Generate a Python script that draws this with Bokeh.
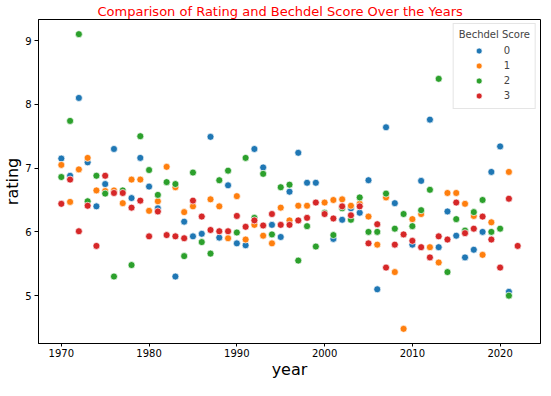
from bokeh.plotting import figure
from bokeh.models import ColumnDataSource, Range1d, FixedTicker
from bokeh.transform import factor_cmap
from bokeh.embed import file_html
from bokeh.resources import INLINE

# Mean rating per year, by Bechdel score
years_0 = [1970, 1971, 1972, 1973, 1974, 1975, 1976, 1978, 1979, 1980, 1981, 1983, 1984, 1985, 1986, 1987, 1988, 1989,
           1990, 1991, 1992, 1993, 1994, 1995, 1996, 1997, 1998, 1999, 2001, 2002, 2003, 2004, 2005, 2006, 2007, 2008,
           2010, 2011, 2012, 2013, 2014, 2015, 2016, 2017, 2018, 2019, 2020, 2021]
rating_0 = [7.15, 6.88, 8.10, 7.09, 6.40, 6.75, 7.30, 6.53, 7.16, 6.71, 6.37, 5.30, 6.16, 5.93, 5.97, 7.49, 5.91, 6.73,
            5.82, 5.79, 7.30, 7.01, 6.11, 5.92, 6.63, 7.24, 6.77, 6.77, 5.89, 6.19, 6.37, 6.30, 6.81, 5.10, 7.64, 6.45,
            5.80, 6.80, 7.76, 5.76, 6.32, 5.94, 5.60, 5.72, 6.00, 6.94, 7.34, 5.06]

years_1 = [1970, 1971, 1972, 1973, 1974, 1975, 1976, 1977, 1978, 1979, 1980, 1981, 1982, 1983, 1984, 1985, 1987, 1988,
           1989, 1990, 1991, 1992, 1993, 1994, 1995, 1996, 1997, 1998, 2000, 2001, 2002, 2003, 2004, 2005, 2006, 2007,
           2008, 2009, 2010, 2011, 2012, 2013, 2014, 2015, 2016, 2017, 2018, 2019, 2021]
rating_1 = [7.05, 6.47, 6.98, 7.16, 6.65, 6.64, 6.65, 6.45, 6.82, 6.82, 6.33, 6.48, 7.02, 6.70, 6.31, 6.40, 6.51, 6.40,
            5.90, 6.56, 5.88, 6.11, 5.94, 5.82, 6.38, 6.18, 6.41, 6.41, 6.46, 6.50, 6.51, 6.41, 6.44, 6.24, 5.80, 6.54,
            5.37, 4.48, 6.20, 6.28, 5.76, 5.52, 6.61, 6.61, 6.44, 6.25, 5.64, 6.15, 6.94]

years_2 = [1970, 1971, 1972, 1973, 1974, 1975, 1976, 1977, 1978, 1979, 1980, 1981, 1982, 1983, 1984, 1985, 1986, 1987,
           1988, 1989, 1990, 1991, 1992, 1993, 1994, 1995, 1996, 1997, 1998, 1999, 2000, 2001, 2002, 2003, 2004, 2005,
           2006, 2007, 2008, 2009, 2010, 2011, 2012, 2013, 2014, 2015, 2016, 2017, 2018, 2019, 2020, 2021]
rating_2 = [6.86, 7.74, 9.10, 6.48, 6.88, 6.60, 5.30, 6.65, 5.48, 7.50, 6.97, 6.58, 6.78, 6.75, 5.62, 6.93, 5.84, 5.66,
            6.81, 6.96, 5.99, 7.16, 6.22, 6.91, 5.96, 6.70, 6.74, 5.55, 6.09, 5.77, 6.30, 5.95, 6.37, 6.19, 6.54, 6.00,
            6.00, 6.60, 6.05, 6.28, 6.09, 6.34, 6.66, 8.40, 5.37, 6.20, 6.02, 6.31, 6.50, 6.00, 6.05, 5.00]

years_3 = [1970, 1971, 1972, 1973, 1974, 1975, 1976, 1977, 1978, 1979, 1980, 1981, 1982, 1983, 1984, 1985, 1986, 1987,
           1988, 1989, 1990, 1991, 1992, 1993, 1994, 1995, 1996, 1997, 1998, 1999, 2000, 2001, 2002, 2003, 2004, 2005,
           2006, 2007, 2008, 2009, 2010, 2011, 2012, 2013, 2014, 2015, 2016, 2017, 2018, 2019, 2020, 2021, 2022]
rating_3 = [6.44, 6.82, 6.01, 6.41, 5.78, 6.88, 6.61, 6.61, 6.38, 6.49, 5.93, 6.32, 5.95, 5.93, 5.90, 6.49, 6.24, 6.03,
            6.01, 6.01, 6.25, 6.08, 6.18, 6.10, 6.28, 6.11, 6.11, 6.18, 6.22, 6.46, 6.28, 6.21, 6.40, 6.26, 6.40, 5.82,
            6.12, 5.44, 5.80, 5.96, 5.86, 5.76, 5.60, 5.93, 5.88, 6.46, 5.98, 6.05, 6.24, 5.88, 5.44, 6.52, 5.78]

scores = ["0", "1", "2", "3"]
palette = ["#1f77b4", "#ff7f0e", "#2ca02c", "#d62728"]
x_ticks = [1970, 1980, 1990, 2000, 2010, 2020]
y_ticks = [5, 6, 7, 8, 9]

# combine, ordered by year then score (draw order)
rows = []
for s, ys, rs in zip(scores, [years_0, years_1, years_2, years_3], [rating_0, rating_1, rating_2, rating_3]):
    for y, r in zip(ys, rs):
        rows.append((y, int(s), r, s))
rows.sort(key=lambda t: (t[0], t[1]))
src = ColumnDataSource(dict(year=[t[0] for t in rows], rating=[t[2] for t in rows], score=[t[3] for t in rows]))

p = figure(frame_width=502, frame_height=324, output_backend="svg", toolbar_location=None,
           x_range=Range1d(1967.4, 2024.6), y_range=Range1d(4.25, 9.33),
           min_border_left=37, min_border_right=2, min_border_top=18, min_border_bottom=0)
p.title.text = "Comparison of Rating and Bechdel Score Over the Years"
p.title.text_color = "red"
p.title.text_font = "DejaVu Sans"
p.title.text_font_size = "13px"
p.title.text_font_style = "normal"
p.title.align = "left"
p.title.offset = 59
p.title.standoff = 2

p.scatter("year", "rating", source=src, size=7, line_color="white", line_width=0.7,
          fill_color=factor_cmap("score", palette, scores), legend_field="score")

p.xgrid.visible = False
p.ygrid.visible = False
p.outline_line_color = "black"
p.outline_line_width = 1

for ax in (p.xaxis, p.yaxis):
    ax.axis_line_color = "black"
    ax.major_tick_line_color = "black"
    ax.major_tick_out = 4
    ax.major_tick_in = 0
    ax.minor_tick_line_color = None
    ax.major_label_text_font = "DejaVu Sans"
    ax.major_label_text_font_size = "10px"
    ax.major_label_text_color = "black"
    ax.axis_label_text_font = "DejaVu Sans"
    ax.axis_label_text_font_size = "16px"
    ax.axis_label_text_font_style = "normal"
    ax.axis_label_text_color = "black"
    ax.major_label_standoff = 3
    ax.axis_label_standoff = 0
p.xaxis.major_tick_out = 3
p.xaxis.major_label_standoff = 2
p.xaxis.ticker = FixedTicker(ticks=x_ticks)
p.yaxis.ticker = FixedTicker(ticks=y_ticks)
p.xaxis.axis_label = "year"
p.yaxis.axis_label = "rating"

lg = p.legend[0]
lg.location = "top_right"
lg.title = "Bechdel Score"
lg.title_text_font = "DejaVu Sans"
lg.title_text_font_size = "10px"
lg.title_text_font_style = "normal"
lg.title_standoff = 3
lg.label_text_font = "DejaVu Sans"
lg.label_text_font_size = "10px"
lg.label_height = 15
lg.glyph_height = 15
lg.glyph_width = 40
lg.label_standoff = 5
lg.spacing = 0
lg.padding = 5
lg.margin = 4
lg.border_line_color = "#cccccc"
lg.background_fill_alpha = 0.8

open("out.html", "w").write(file_html(p, INLINE))
